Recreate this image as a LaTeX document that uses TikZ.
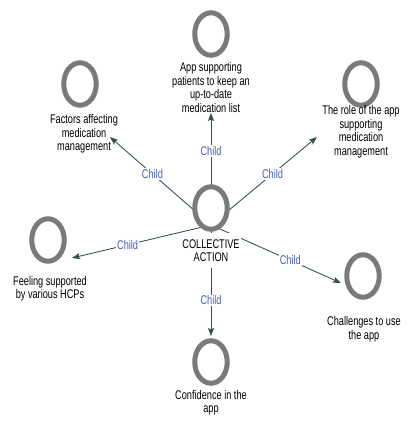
\documentclass[tikz,border=0pt]{standalone}
\usepackage{fontspec}
\setmainfont{Liberation Sans}[FakeStretch=0.73]
\usetikzlibrary{shapes.geometric,arrows.meta,backgrounds}
\definecolor{ringgray}{RGB}{122,122,122}
\definecolor{linkcol}{RGB}{50,78,78}
\definecolor{childblue}{RGB}{70,95,175}
\begin{document}
\begin{tikzpicture}[x=1pt,y=-1pt,
  ring/.style={draw=ringgray, fill=white, ellipse, line width=5pt,
    minimum width=32.5pt, minimum height=42.5pt, inner sep=0pt},
  caption/.style={align=center, font=\fontsize{12.6}{13.5}\selectfont, inner sep=1pt},
  link/.style={draw=linkcol, line width=0.85pt,
    -{Stealth[length=8pt,width=6pt,inset=1.5pt]}},
  childtag/.style={fill=white, text=childblue,
    font=\fontsize{12.6}{13}\selectfont, inner sep=1pt}]
\useasboundingbox (0,0) rectangle (406,427);

% central node
\node[caption, fill=white, inner ysep=6pt] (hublabel) at (211,250.5) {COLLECTIVE\\ACTION};
\node[ring] (hubring) at (211,208) {};
\coordinate (hub) at (211,225);

% child nodes
\node[ring] (topring) at (211,34) {};
\node[caption] (toplabel) at (211,87.5) {App supporting\\patients to keep an\\up-to-date\\medication list};
\coordinate (toptip) at (211,113);

\node[ring] (tlring) at (80,84) {};
\node[caption] (tllabel) at (84,134) {Factors affecting\\medication\\management};
\coordinate (tltip) at (110,137);

\node[ring] (trring) at (361,84) {};
\node[caption] (trlabel) at (361,131.5) {The role of the app\\supporting\\medication\\management};
\coordinate (trtip) at (317,137);

\node[ring] (lring) at (48,240) {};
\node[caption] (llabel) at (50,288.5) {Feeling supported\\by various HCPs};
\coordinate (ltip) at (72,258);

\node[ring] (rring) at (363,276) {};
\node[caption] (rlabel) at (364,329) {Challenges to use\\the app};
\coordinate (rtip) at (341,283);

\node[ring] (bring) at (211,362) {};
\node[caption] (blabel) at (211,402.5) {Confidence in the\\app};
\coordinate (btip) at (211,336);

% connectors run underneath the central node
\begin{pgfonlayer}{background}
\draw[link] (hub) -- node[childtag, pos=0.66] {Child} (toptip);
\draw[link] (hub) -- node[childtag, pos=0.58] {Child} (tltip);
\draw[link] (hub) -- node[childtag, pos=0.58] {Child} (trtip);
\draw[link] (hub) -- node[childtag, pos=0.60] {Child} (ltip);
\draw[link] (hub) -- node[childtag, pos=0.61] {Child} (rtip);
\draw[link] (hub) -- node[childtag, pos=0.68] {Child} (btip);
\end{pgfonlayer}
\end{tikzpicture}
\end{document}
